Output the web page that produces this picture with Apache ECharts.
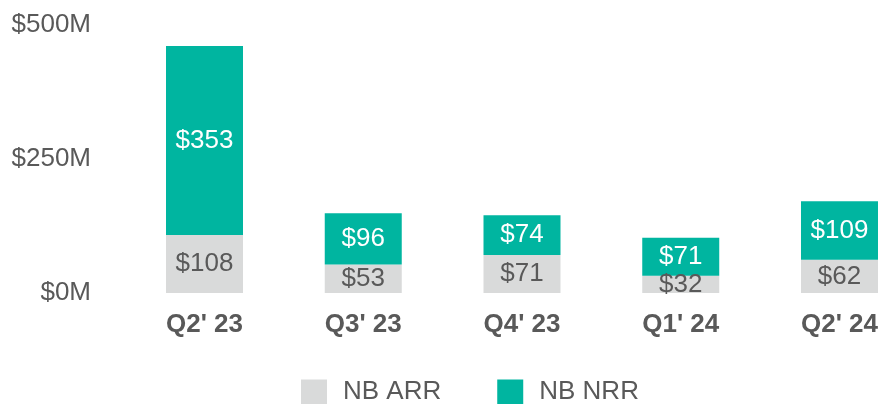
<!DOCTYPE html>
<html>
<head>
<meta charset="utf-8">
<script src="https://cdn.jsdelivr.net/npm/echarts@6/dist/echarts.min.js"></script>
<style>
  html, body { margin: 0; padding: 0; background: #fff; }
  #chart { width: 881px; height: 404px; }
</style>
</head>
<body>
<div id="chart"></div>
<script>
// Chart data
const quarters = ["Q2' 23", "Q3' 23", "Q4' 23", "Q1' 24", "Q2' 24"];
const nbArr = [108, 53, 71, 32, 62];
const nbNrr = [353, 96, 74, 71, 109];
const yTicks = [0, 250, 500];

const FONT = '"Liberation Sans", Arial, sans-serif';
const TEXT = '#595959';
const SIZE = 26;

const chart = echarts.init(document.getElementById('chart'));

// category points sit on the grid edges (boundaryGap false), bars keep a fixed width
chart.setOption({
  animation: false,
  grid: { left: 204.5, top: 25, width: 636.5, height: 268, containLabel: false },
  legend: {
    left: 296,
    top: 374,
    itemWidth: 26,
    itemHeight: 25,
    itemGap: 56,
    icon: 'rect',
    textStyle: { fontFamily: FONT, fontSize: SIZE, color: TEXT, padding: [0, 0, 0, 11] },
    data: ['NB ARR', 'NB NRR']
  },
  xAxis: {
    type: 'category',
    data: quarters,
    boundaryGap: false,
    axisLine: { show: false },
    axisTick: { show: false },
    axisLabel: { fontFamily: FONT, fontSize: SIZE, fontWeight: 'bold', color: TEXT, margin: 19 }
  },
  yAxis: {
    type: 'value',
    min: yTicks[0],
    max: yTicks[yTicks.length - 1],
    interval: yTicks[1] - yTicks[0],
    splitLine: { show: false },
    axisLine: { show: false },
    axisTick: { show: false },
    axisLabel: {
      fontFamily: FONT, fontSize: SIZE, color: TEXT, margin: 113.5,
      formatter: v => '$' + v + 'M'
    }
  },
  series: [
    {
      name: 'NB ARR',
      type: 'bar',
      stack: 'total',
      barWidth: 77,
      data: nbArr,
      itemStyle: { color: '#D9DADA' },
      label: {
        show: true, position: 'inside', fontFamily: FONT, fontSize: SIZE, color: TEXT,
        formatter: p => '$' + p.value
      }
    },
    {
      name: 'NB NRR',
      type: 'bar',
      stack: 'total',
      barWidth: 77,
      data: nbNrr,
      itemStyle: { color: '#00B5A0' },
      label: {
        show: true, position: 'inside', fontFamily: FONT, fontSize: SIZE, color: '#fff',
        formatter: p => '$' + p.value
      }
    }
  ]
});
</script>
</body>
</html>
